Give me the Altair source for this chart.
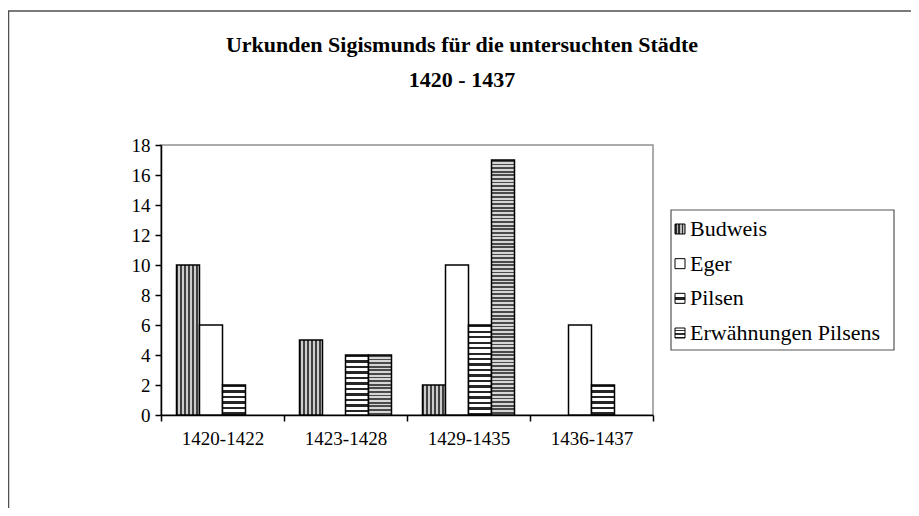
import altair as alt
import pandas as pd

# ---- data ----
periods = ["1420-1422", "1423-1428", "1429-1435", "1436-1437"]
series_names = ["Budweis", "Eger", "Pilsen", "Erwähnungen Pilsens"]
budweis = [10, 5, 2, 0]
eger = [6, 0, 10, 6]
pilsen = [2, 4, 6, 2]
erwaehnungen = [0, 4, 17, 0]
y_ticks = [0, 2, 4, 6, 8, 10, 12, 14, 16, 18]
title_lines = ["Urkunden Sigismunds für die untersuchten Städte", "1420 - 1437"]

values_by_series = dict(zip(series_names, [budweis, eger, pilsen, erwaehnungen]))
rows = []
for i, p in enumerate(periods):
    for s in series_names:
        rows.append({"period": p, "series": s, "count": values_by_series[s][i]})
df = pd.DataFrame(rows)
legend_df = pd.DataFrame({"series": series_names})

# ---- styling helpers ----
W, H = 492, 270
PX_PER_UNIT = H / 18.0
FONT = "Liberation Serif"


def stripes(n, dark, light, frac, vertical_lines):
    stops = []
    k = 0
    while k < n:
        a = k / n
        b = min((k + frac) / n, 1.0)
        c = min((k + 1) / n, 1.0)
        stops += [alt.GradientStop(color=dark, offset=a), alt.GradientStop(color=dark, offset=b),
                  alt.GradientStop(color=light, offset=b), alt.GradientStop(color=light, offset=c)]
        k += 1
    if vertical_lines:
        return alt.LinearGradient(gradient="linear", stops=stops, x1=0, x2=1, y1=0, y2=0)
    return alt.LinearGradient(gradient="linear", stops=stops, x1=0, x2=0, y1=0, y2=1)


x_enc = alt.X("period:N", scale=alt.Scale(domain=periods, paddingInner=0, paddingOuter=0),
              axis=alt.Axis(title=None, labelAngle=0, tickBand="extent", labelPadding=8))
xo_enc = alt.XOffset("series:N", scale=alt.Scale(domain=series_names, paddingInner=0, paddingOuter=0.674))
y_enc = alt.Y("count:Q", scale=alt.Scale(domain=[0, 18], nice=False),
              axis=alt.Axis(title=None, values=y_ticks, labelPadding=5))


def bar_layer(fill, pred):
    return alt.Chart(df).mark_bar(fill=fill, stroke="black", strokeWidth=1.5).encode(
        x=x_enc, xOffset=xo_enc, y=y_enc).transform_filter(pred)


bar_layers = []
# Budweis: vertical lines
bar_layers.append(bar_layer(stripes(6, "#404040", "#cccccc", 0.5, True),
                            (alt.datum.series == "Budweis") & (alt.datum.count > 0)))
# Eger: white
bar_layers.append(bar_layer("white", (alt.datum.series == "Eger") & (alt.datum.count > 0)))
# Pilsen: wide horizontal lines, Erwähnungen: dense horizontal lines
for s, period_px, dark, light, frac in [("Pilsen", 5.5, "#262626", "#ffffff", 0.45),
                                        ("Erwähnungen Pilsens", 3.6, "#4a4a4a", "#d6d6d6", 0.5)]:
    for v in sorted(set(values_by_series[s])):
        if v <= 0:
            continue
        n = v * PX_PER_UNIT / period_px
        bar_layers.append(bar_layer(stripes(n, dark, light, frac, False),
                                    (alt.datum.series == s) & (alt.datum.count == v)))
bars = alt.layer(*bar_layers)

# ---- legend (custom, patterned symbols) ----
ly = alt.Y("series:N", scale=alt.Scale(type="point", domain=series_names, range=[84, 188], padding=0),
           axis=None)
legend_fills = {
    "Budweis": stripes(3, "#303030", "#bbbbbb", 0.5, True),
    "Eger": "white",
    "Pilsen": alt.LinearGradient(gradient="linear", x1=0, x2=0, y1=0, y2=1, stops=[
        alt.GradientStop(color="white", offset=0), alt.GradientStop(color="white", offset=0.35),
        alt.GradientStop(color="#202020", offset=0.35), alt.GradientStop(color="#202020", offset=0.65),
        alt.GradientStop(color="white", offset=0.65), alt.GradientStop(color="white", offset=1)]),
    "Erwähnungen Pilsens": stripes(3, "white", "#303030", 0.6, False),
}
legend_layers = []
for s in series_names:
    legend_layers.append(alt.Chart(legend_df).mark_square(size=100, fill=legend_fills[s], stroke="black",
                                                          strokeWidth=1, opacity=1)
                         .encode(x=alt.value(519), y=ly).transform_filter(alt.datum.series == s))
legend_layers.append(alt.Chart(legend_df).mark_text(align="left", baseline="middle", font=FONT,
                                                    fontSize=22, color="black")
                     .encode(x=alt.value(529), y=ly, text="series:N"))
legend = alt.layer(*legend_layers)

one = pd.DataFrame({"d": [0]})
legend_box = alt.Chart(one).mark_rect(filled=False, stroke="#555555", strokeWidth=1.2).encode(
    x=alt.value(510), x2=alt.value(733), y=alt.value(65), y2=alt.value(205))
frame = alt.Chart(one).mark_rect(filled=False, stroke="#505050", strokeWidth=1.5).encode(
    x=alt.value(-152.5), x2=alt.value(1200), y=alt.value(-134), y2=alt.value(1000))
title1 = alt.Chart(one).mark_text(text=title_lines[0], font=FONT, fontSize=22, fontWeight="bold",
                                  align="center", baseline="middle", color="black").encode(
    x=alt.value(301), y=alt.value(-100))
title2 = alt.Chart(one).mark_text(text=title_lines[1], font=FONT, fontSize=22, fontWeight="bold",
                                  align="center", baseline="middle", color="black").encode(
    x=alt.value(301), y=alt.value(-65))

chart = alt.layer(frame, title1, title2, bars, legend_box, legend).resolve_scale(
    y="independent"
).properties(
    width=W, height=H,
    autosize=alt.AutoSizeParams(type="none"),
    padding={"left": 153, "top": 137, "right": 258, "bottom": 93},
    background="white",
).configure_view(
    stroke="#909090", strokeWidth=1.5
).configure_axis(
    labelFont=FONT, labelFontSize=19, labelColor="black", domainColor="black", tickColor="black",
    domainWidth=1.5, tickWidth=1.5, tickSize=6, grid=False
)

chart.save("out.html", embed_options={"renderer": "svg", "actions": False})
